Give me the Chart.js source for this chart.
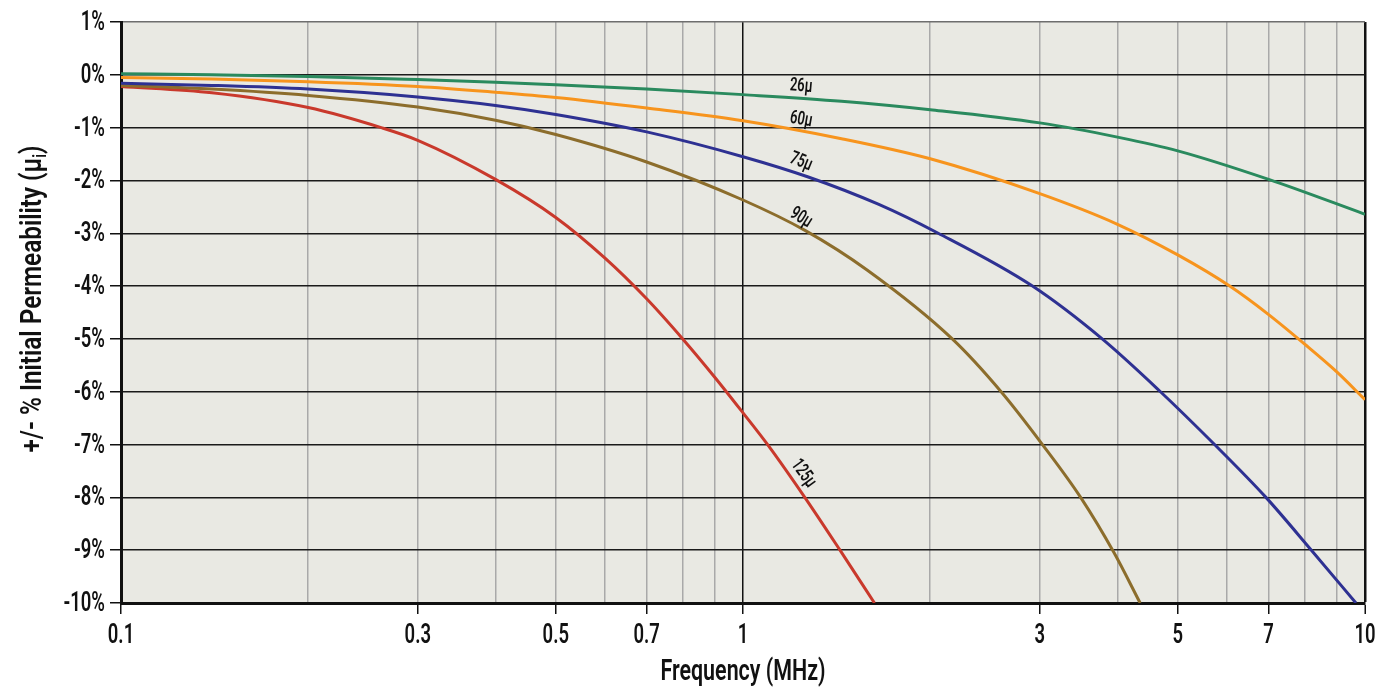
<!DOCTYPE html>
<html>
<head>
<meta charset="utf-8">
<style>
html,body{margin:0;padding:0;background:#ffffff;}
#wrap{width:1388px;height:687px;position:relative;}
</style>
<script src="https://cdn.jsdelivr.net/npm/chart.js@4.4.1/dist/chart.umd.min.js"></script>
</head>
<body>
<div id="wrap"><canvas id="c" width="1388" height="687"></canvas></div>
<script>
// ---- data (frequency in MHz, change in initial permeability in %) ----
const freq26 = [0.1, 0.14, 0.2, 0.3, 0.4, 0.5, 0.7, 1, 1.44, 2, 3, 4, 5, 7, 10];
const perm26 = [0.02, 0.0, -0.03, -0.09, -0.14, -0.19, -0.27, -0.375, -0.50, -0.66, -0.91, -1.18, -1.44, -1.98, -2.64];

const freq60 = [0.1, 0.14, 0.2, 0.3, 0.4, 0.5, 0.7, 1, 1.44, 2, 3, 4, 5, 6.06, 7, 8, 9, 10];
const perm60 = [-0.05, -0.08, -0.13, -0.22, -0.33, -0.43, -0.63, -0.87, -1.21, -1.59, -2.25, -2.83, -3.41, -4.0, -4.54, -5.1, -5.62, -6.15];

const freq75 = [0.1, 0.14, 0.2, 0.3, 0.4, 0.5, 0.7, 1, 1.27, 1.65, 2.06, 2.92, 3.78, 4.69, 5.73, 6.93, 8.2, 9.67];
const perm75 = [-0.16, -0.20, -0.27, -0.42, -0.58, -0.75, -1.08, -1.55, -1.93, -2.45, -3.0, -4.0, -5.0, -6.0, -7.0, -8.0, -9.0, -10];

const freq90 = [0.1, 0.14, 0.2, 0.3, 0.4, 0.5, 0.7, 1, 1.26, 1.585, 2.17, 2.6, 3.03, 3.49, 3.95, 4.35];
const perm90 = [-0.20, -0.27, -0.39, -0.61, -0.86, -1.13, -1.65, -2.37, -2.95, -3.70, -5.0, -6.0, -7.0, -8.0, -9.05, -10];

const freq125 = [0.1, 0.14, 0.2, 0.262, 0.3, 0.4, 0.5, 0.6, 0.7, 0.8, 0.9, 1, 1.1, 1.257, 1.432, 1.627];
const perm125 = [-0.22, -0.34, -0.62, -1.0, -1.24, -1.98, -2.70, -3.47, -4.24, -5.0, -5.72, -6.40, -7.03, -8.0, -9.0, -10];

const seriesNames = ['26μ', '60μ', '75μ', '90μ', '125μ'];
const seriesColors = ['#2a8a5e', '#f7941d', '#2e3192', '#8c6d2c', '#c9392c'];

// curve labels: position in data units (MHz, %) and rotation in degrees
const labelFreq = [1.24, 1.24, 1.24, 1.24, 1.25];
const labelVal = [-0.22, -0.85, -1.65, -2.71, -7.55];
const labelAngle = [5, 10, 22, 32, 54];

// axis ticks and titles
const xGridValues = [0.1, 0.2, 0.3, 0.4, 0.5, 0.6, 0.7, 0.8, 0.9, 1, 2, 3, 4, 5, 6, 7, 8, 9, 10];
const xLabeled = [0.1, 0.3, 0.5, 0.7, 1, 3, 5, 7, 10];
const yTicks = [1, 0, -1, -2, -3, -4, -5, -6, -7, -8, -9, -10];
const xTitle = 'Frequency (MHz)';
const yTitleMain = '+/- % Initial Permeability (μ';
const yTitleSub = 'i';
const yTitleEnd = ')';

const FONT = 'Roboto, "DejaVu Sans Condensed", sans-serif';
const W = '600 ';

const pairs = [[freq26, perm26], [freq60, perm60], [freq75, perm75], [freq90, perm90], [freq125, perm125]];
const datasets = pairs.map((p, i) => ({
  label: seriesNames[i],
  data: p[0].map((f, k) => ({x: f, y: p[1][k]})),
  borderColor: seriesColors[i],
  borderWidth: 3,
  pointRadius: 0,
  fill: false,
  cubicInterpolationMode: 'monotone'
}));

function drawText(ctx, str, x, y, size, align, baseline, rot, sx) {
  ctx.save();
  ctx.translate(x, y);
  if (rot) ctx.rotate(rot);
  ctx.scale(sx, 1);
  ctx.font = W + size + 'px ' + FONT;
  ctx.textAlign = align;
  ctx.textBaseline = baseline;
  ctx.fillText(str, 0, 0);
  ctx.restore();
}

const bgPlugin = {
  id: 'bg',
  beforeDraw(chart) {
    const {ctx, chartArea: a} = chart;
    ctx.save();
    ctx.fillStyle = '#e9e9e3';
    ctx.fillRect(a.left, a.top, a.right - a.left, a.bottom - a.top);
    ctx.restore();
  }
};

const textPlugin = {
  id: 'texts',
  afterDraw(chart) {
    const {ctx, chartArea: a} = chart;
    const xs = chart.scales.x, ys = chart.scales.y;
    ctx.save();
    ctx.fillStyle = '#111';
    // curve labels
    seriesNames.forEach((t, i) => {
      drawText(ctx, t, xs.getPixelForValue(labelFreq[i]), ys.getPixelForValue(labelVal[i]),
        19, 'center', 'middle', labelAngle[i] * Math.PI / 180, 0.68);
    });
    // y tick labels
    yTicks.forEach(v => {
      drawText(ctx, v + '%', a.left - 16, ys.getPixelForValue(v) + 1, 28, 'right', 'middle', 0, 0.66);
    });
    // x tick labels
    xLabeled.forEach(v => {
      drawText(ctx, String(v), xs.getPixelForValue(v), a.bottom + 19, 28, 'center', 'top', 0, 0.66);
    });
    // x title
    drawText(ctx, xTitle, (a.left + a.right) / 2, 680, 29, 'center', 'alphabetic', 0, 0.74);
    // y title with subscript
    const TS = 30, SS = 18, TX = 0.81;
    ctx.font = W + TS + 'px ' + FONT;
    const wMain = ctx.measureText(yTitleMain).width * TX;
    const wEnd = ctx.measureText(yTitleEnd).width * TX;
    ctx.font = W + SS + 'px ' + FONT;
    const wSub = ctx.measureText(yTitleSub).width * TX;
    const total = wMain + wSub + wEnd;
    const cy = 299, bx = 41;
    const yStart = cy + total / 2;
    drawText(ctx, yTitleMain, bx, yStart, TS, 'left', 'alphabetic', -Math.PI / 2, TX);
    drawText(ctx, yTitleSub, bx + 5, yStart - wMain, SS, 'left', 'alphabetic', -Math.PI / 2, TX);
    drawText(ctx, yTitleEnd, bx, yStart - wMain - wSub, TS, 'left', 'alphabetic', -Math.PI / 2, TX);
    ctx.restore();
  }
};

new Chart(document.getElementById('c'), {
  type: 'line',
  data: {datasets},
  plugins: [bgPlugin, textPlugin],
  options: {
    responsive: false,
    devicePixelRatio: 1,
    animation: false,
    layout: {padding: {left: 0, right: 23, top: 22, bottom: 0}},
    plugins: {legend: {display: false}, tooltip: {enabled: false}},
    scales: {
      x: {
        type: 'logarithmic',
        min: 0.1,
        max: 10,
        afterBuildTicks(scale) {
          scale.ticks = xGridValues.map(v => ({value: v}));
        },
        afterFit(scale) { scale.height = 84; },
        ticks: {display: false, autoSkip: false, maxRotation: 0},
        grid: {
          drawOnChartArea: true,
          tickLength: 11,
          color(ctx) {
            const v = ctx.tick && ctx.tick.value;
            return (v === 1 || v === 10) ? '#111' : '#a9a9a9';
          },
          lineWidth(ctx) {
            const v = ctx.tick && ctx.tick.value;
            return v === 10 ? 2.5 : 1.5;
          },
          tickColor(ctx) {
            const v = ctx.tick && ctx.tick.value;
            return xLabeled.includes(v) ? '#111' : 'rgba(0,0,0,0)';
          },
          tickWidth: 1.5
        },
        border: {display: true, color: '#111', width: 3},
        title: {display: false}
      },
      y: {
        type: 'linear',
        min: -10,
        max: 1,
        afterBuildTicks(scale) {
          scale.ticks = yTicks.map(v => ({value: v}));
        },
        afterFit(scale) { scale.width = 121; },
        ticks: {display: false},
        grid: {
          tickLength: 11,
          color(ctx) {
            const v = ctx.tick && ctx.tick.value;
            return v === 1 ? '#6e6e6e' : '#1a1a1a';
          },
          lineWidth: 1.5,
          tickColor: '#111',
          tickWidth: 1.5
        },
        border: {display: true, color: '#111', width: 3},
        title: {display: false}
      }
    }
  }
});
</script>
</body>
</html>
